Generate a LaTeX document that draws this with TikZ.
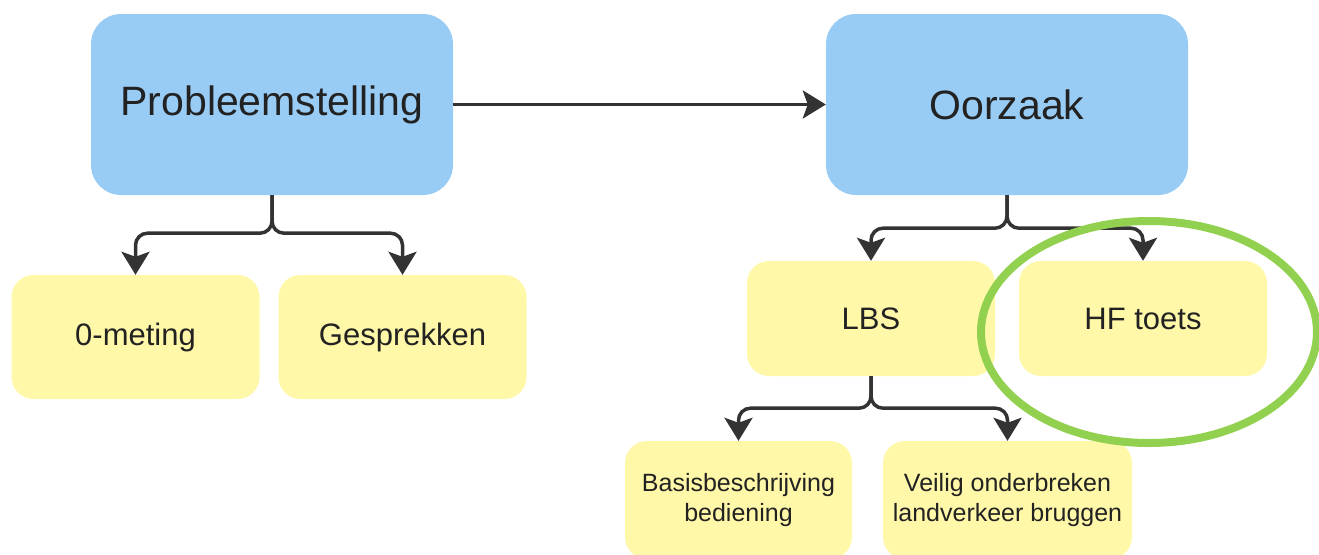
\documentclass[tikz,border=0pt]{standalone}
\usepackage{fontspec}
\setmainfont{Liberation Sans}
\usetikzlibrary{arrows.meta}
\definecolor{boxblue}{HTML}{99CCF5}
\definecolor{boxyellow}{HTML}{FFF8A8}
\definecolor{ink}{HTML}{222222}
\definecolor{lineink}{HTML}{333333}
\definecolor{ringgreen}{HTML}{92D050}
\tikzset{
  bigbox/.style={fill=boxblue, draw=none, rounded corners=30pt, minimum width=362pt, minimum height=181pt, inner sep=0pt, text=ink, font=\fontsize{41}{49}\selectfont},
  smallbox/.style={fill=boxyellow, draw=none, rounded corners=22pt, minimum width=248pt, minimum height=124pt, inner sep=0pt, text=ink, font=\fontsize{31}{37}\selectfont},
  midbox/.style={smallbox, minimum height=115pt},
  leafbox/.style={fill=boxyellow, draw=none, rounded corners=22pt, minimum height=118pt, inner sep=0pt, text=ink, align=center, font=\fontsize{25}{30}\selectfont},
  conn/.style={draw=lineink, line width=3.5pt, rounded corners=12pt, -{Stealth[length=23pt, width=28pt, inset=5pt]}},
  ring/.style={draw=ringgreen, line width=8pt}
}
\begin{document}
\begin{tikzpicture}[x=1pt, y=-1pt]
  \useasboundingbox (0,0) rectangle (1319,554);

  % top level
  \node[bigbox] (prob) at (272,104.5) {Probleemstelling};
  \node[bigbox] (oorz) at (1007,104.5) {Oorzaak};

  % second level
  \node[smallbox] (nul) at (135.5,337) {0-meting};
  \node[smallbox] (gesp) at (402.5,337) {Gesprekken};
  \node[midbox] (lbs) at (871,318.5) {LBS};
  \node[midbox] (hf) at (1143,318.5) {HF toets};

  % third level
  \node[leafbox, minimum width=227pt] (basis) at (738.5,500) {Basisbeschrijving\\bediening};
  \node[leafbox, minimum width=249pt] (veilig) at (1007.5,500) {Veilig onderbreken\\landverkeer bruggen};

  % connectors
  \draw[conn] (prob.east) -- (oorz.west);
  \draw[conn] (prob.south) -- ++(0,38) -| (nul.north);
  \draw[conn] (prob.south) -- ++(0,38) -| (gesp.north);
  \draw[conn] (oorz.south) -- ++(0,33) -| (lbs.north);
  \draw[conn] (oorz.south) -- ++(0,33) -| (hf.north);
  \draw[conn] (lbs.south) -- ++(0,32) -| (basis.north);
  \draw[conn] (lbs.south) -- ++(0,32) -| (veilig.north);

  % highlight
  \draw[ring] (1149,332) ellipse [x radius=168pt, y radius=111pt];
\end{tikzpicture}
\end{document}
